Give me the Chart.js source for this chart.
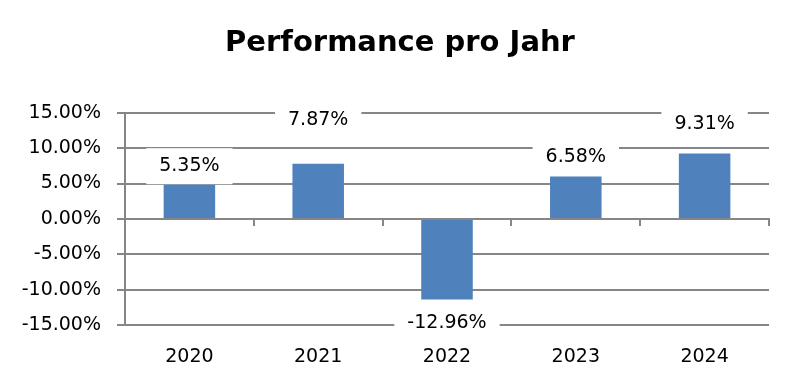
<!DOCTYPE html>
<html>
<head>
<meta charset="utf-8">
<script src="https://cdn.jsdelivr.net/npm/chart.js@4.4.1/dist/chart.umd.min.js"></script>
<style>
  body { margin: 0; background: #fff; }
</style>
</head>
<body>
<canvas id="grafik" width="800" height="389"></canvas>
<script>
// Daten
const jahre = ["2020", "2021", "2022", "2023", "2024"];
const balken = [4.85, 7.8, -11.4, 6.0, 9.25];
const beschriftung = [5.35, 7.87, -12.96, 6.58, 9.31];
// Höhe (auf der y-Achse), an der das jeweilige Label steht
const labelHoehe = [7.45, 13.95, -14.7, 8.75, 13.45];
const yTicks = [-15, -10, -5, 0, 5, 10, 15];

const grau = "#868686";
const schrift = "DejaVu Sans";

const labelPlugin = {
  id: "labels",
  afterDatasetsDraw(chart) {
    const c = chart.ctx;
    const meta = chart.getDatasetMeta(0);
    c.save();
    c.font = "19px '" + schrift + "'";
    c.textAlign = "center";
    c.textBaseline = "middle";
    meta.data.forEach((bar, i) => {
      const text = beschriftung[i].toFixed(2) + "%";
      const y = chart.scales.y.getPixelForValue(labelHoehe[i]);
      const w = c.measureText(text).width;
      c.fillStyle = "#fff";
      c.fillRect(bar.x - w / 2 - 13, y - 18, w + 26, 36);
      c.fillStyle = "#000";
      c.fillText(text, bar.x, y);
    });
    c.restore();
  },
};

new Chart(document.getElementById("grafik"), {
  type: "bar",
  data: {
    labels: jahre,
    datasets: [
      {
        data: balken,
        backgroundColor: "#4F81BD",
        barPercentage: 0.4,
        categoryPercentage: 1,
      },
    ],
  },
  options: {
    responsive: false,
    animation: false,
    layout: { padding: 0 },
    plugins: {
      legend: { display: false },
      tooltip: { enabled: false },
      title: {
        display: true,
        text: "Performance pro Jahr",
        color: "#000",
        font: { family: schrift, size: 29, weight: "bold", lineHeight: 1.2 },
        padding: { top: 26, bottom: 52 },
      },
    },
    scales: {
      x: {
        position: "bottom",
        grid: { display: false, drawTicks: false },
        border: { display: false },
        ticks: {
          color: "#000",
          padding: 21,
          font: { family: schrift, size: 19 },
        },
        afterFit: (s) => { s.height = 64; },
      },
      x2: {
        type: "category",
        labels: jahre,
        position: { y: 0 },
        offset: true,
        grid: {
          offset: true,
          drawOnChartArea: false,
          drawTicks: true,
          tickLength: 6,
          color: grau,
          lineWidth: 2,
        },
        border: { color: grau, width: 2 },
        ticks: { display: false },
      },
      y: {
        min: -15,
        max: 15,
        afterBuildTicks: (s) => { s.ticks = yTicks.map((v) => ({ value: v })); },
        grid: { color: grau, lineWidth: 2, drawTicks: true, tickLength: 8 },
        border: { color: grau, width: 2 },
        ticks: {
          color: "#000",
          padding: 16,
          font: { family: schrift, size: 19 },
          callback: (v) => v.toFixed(2) + "%",
        },
        afterFit: (s) => { s.width = 125; },
      },
      // leere Achse rechts, nur als Abstand
      rechts: {
        position: "right",
        grid: { display: false },
        border: { display: false },
        ticks: { display: false },
        afterFit: (s) => { s.width = 31; },
      },
    },
  },
  plugins: [labelPlugin],
});
</script>
</body>
</html>
